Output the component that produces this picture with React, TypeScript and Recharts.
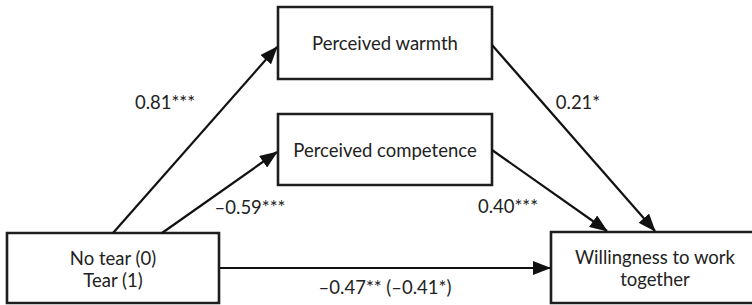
import { ComposedChart, XAxis, YAxis, Scatter, ReferenceArea, ReferenceLine } from "recharts";

const WIDTH = 752;
const HEIGHT = 305;

// model variables (node labels, one entry per line)
const nodeLabels = [
  ["No tear (0)", "Tear (1)"],
  ["Perceived warmth"],
  ["Perceived competence"],
  ["Willingness to work", "together"],
];

// paths: from node -> to node, with coefficient text
const pathFrom = [0, 0, 1, 2, 0];
const pathTo = [1, 2, 3, 3, 3];
const pathLabels = ["0.81***", "–0.59***", "0.21*", "0.40***", "–0.47** (–0.41*)"];

// layout (diagram coordinates, y grows downward)
const boxLayout = [
  { x1: 7, x2: 219, y1: 233, y2: 303 },
  { x1: 278, x2: 492, y1: 7, y2: 79 },
  { x1: 278, x2: 492, y1: 114, y2: 185 },
  { x1: 551, x2: 759, y1: 232, y2: 303 },
];
const pathLayout = [
  { start: { x: 113, y: 233 }, end: { x: 277, y: 47 } },
  { start: { x: 162, y: 233 }, end: { x: 277, y: 152 } },
  { start: { x: 492, y: 45 }, end: { x: 655, y: 231 } },
  { start: { x: 492, y: 150 }, end: { x: 607, y: 231 } },
  { start: { x: 220, y: 268 }, end: { x: 550, y: 268 } },
];
const labelLayout = [
  { x: 165, y: 102 },
  { x: 250, y: 207 },
  { x: 578, y: 102 },
  { x: 508, y: 206 },
  { x: 385, y: 287 },
];
const nodeTextCenter = [
  { x: 113, y: 269 },
  { x: 385, y: 43 },
  { x: 385, y: 150 },
  { x: 655, y: 268 },
];

const FONT = "Lato, 'Open Sans', sans-serif";
const TEXT_COLOR = "#222222";
const LINE_COLOR = "#111111";
const LINE_GAP = 22;

const nodeText = nodeLabels.map((lines, i) => ({ ...nodeTextCenter[i], lines }));
const coefText = pathLabels.map((text, i) => ({ ...labelLayout[i], lines: [text] }));

function TextShape(props: any) {
  const { cx, cy, payload } = props;
  const lines: string[] = payload.lines;
  const top = cy - ((lines.length - 1) * LINE_GAP) / 2;
  return (
    <text
      textAnchor="middle"
      dominantBaseline="central"
      fontFamily={FONT}
      fontSize={18.5}
      fill={TEXT_COLOR}
    >
      {lines.map((l, i) => (
        <tspan key={i} x={cx} y={top + i * LINE_GAP}>
          {l}
        </tspan>
      ))}
    </text>
  );
}

export default function App() {
  return (
    <div style={{ position: "absolute", left: 0, top: 0, background: "#fff" }}>
      <ComposedChart width={WIDTH} height={HEIGHT} margin={{ top: 0, right: 0, bottom: 0, left: 0 }}>
        <defs>
          <marker
            id="arrowHead"
            markerUnits="userSpaceOnUse"
            markerWidth={18}
            markerHeight={14}
            refX={17}
            refY={7}
            orient="auto"
          >
            <path d="M0,0 L18,7 L0,14 Z" fill={LINE_COLOR} />
          </marker>
        </defs>
        <XAxis type="number" dataKey="x" domain={[0, WIDTH]} hide allowDataOverflow />
        <YAxis type="number" dataKey="y" domain={[0, HEIGHT]} reversed hide allowDataOverflow />

        {pathFrom.map((from, i) => (
          <ReferenceLine
            key={`p${i}-${from}-${pathTo[i]}`}
            segment={[pathLayout[i].start, pathLayout[i].end]}
            stroke={LINE_COLOR}
            strokeWidth={2.2}
            markerEnd="url(#arrowHead)"
            ifOverflow="visible"
          />
        ))}

        {boxLayout.map((b, i) => (
          <ReferenceArea
            key={`b${i}`}
            x1={b.x1}
            x2={b.x2}
            y1={b.y1}
            y2={b.y2}
            fill="#ffffff"
            fillOpacity={1}
            stroke="#1e1e1e"
            strokeWidth={2.6}
            ifOverflow="visible"
          />
        ))}

        <Scatter data={nodeText} shape={TextShape} isAnimationActive={false} />
        <Scatter data={coefText} shape={TextShape} isAnimationActive={false} />
      </ComposedChart>
    </div>
  );
}
